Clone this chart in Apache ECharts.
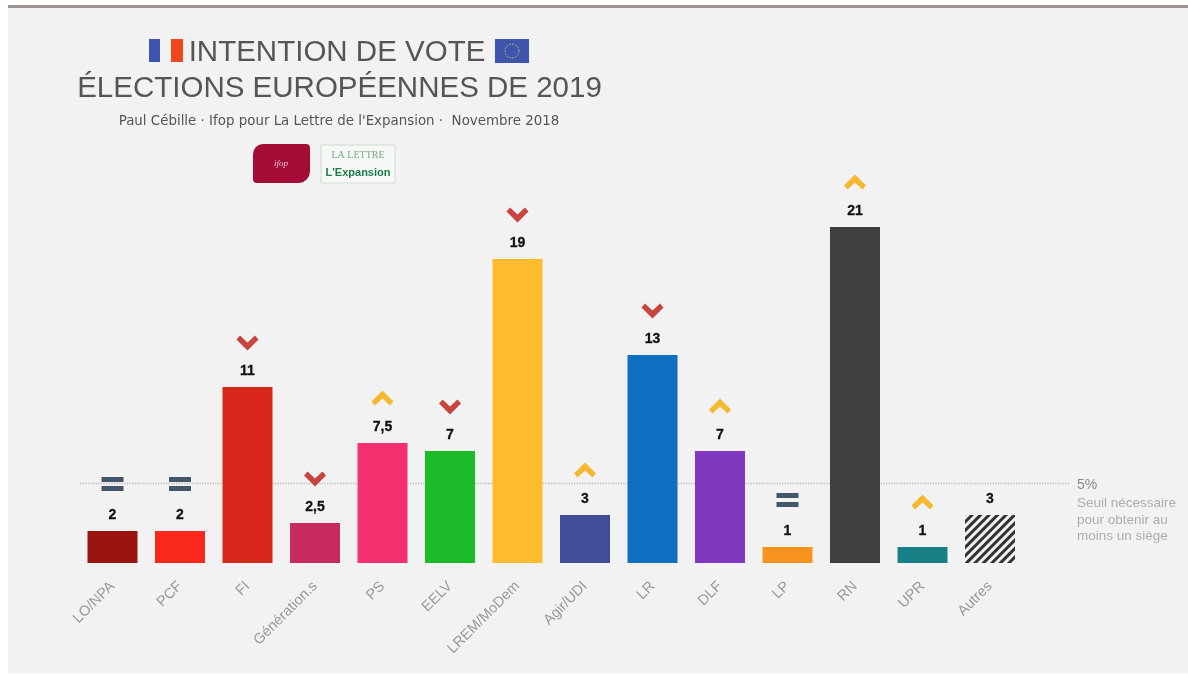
<!DOCTYPE html>
<html><head><meta charset="utf-8">
<style>html,body{margin:0;padding:0;background:#fff}#c{width:1188px;height:674px}</style>
<script src="https://cdn.jsdelivr.net/npm/echarts@6/dist/echarts.min.js"></script>
</head><body><div id="c"></div>
<script>
const categories=['LO/NPA','PCF','FI','Génération.s','PS','EELV','LREM/MoDem','Agir/UDI','LR','DLF','LP','RN','UPR','Autres'];
const values=[2,2,11,2.5,7.5,7,19,3,13,7,1,21,1,3];
const colors=['#9b1510','#f9281a','#d9261a','#c92a62','#f5306e','#1cbb2a','#fdbb2d','#3f4d9a','#0f6fc0','#8038c0','#f7931e','#3f3f3f','#1a8088','#f2f2f2'];
const trends=['same','same','down','down','up','down','down','up','down','up','same','up','up',null];
const threshold=5;
const titleLines=['INTENTION DE VOTE','ÉLECTIONS EUROPÉENNES DE 2019'];
const subtitle="Paul Cébille · Ifop pour La Lettre de l'Expansion ·  Novembre 2018";

const DOWN='path://M0 4L3.5 0L11 7L18.5 0L22 4L11 15Z';
const UP='path://M0 11L3.5 15L11 8L18.5 15L22 11L11 0Z';
const SAME='path://M0 0L22 0L22 5L0 5ZM0 9L22 9L22 14L0 14Z';
const trendStyle={up:[UP,'#f5b82e',-45],down:[DOWN,'#c8453f',-44],same:[SAME,'#44566a',-47]};
const fmt=v=>String(v).replace('.',',');

const chart=echarts.init(document.getElementById('c'),null,{renderer:'canvas'});
chart.setOption({
  animation:false,
  backgroundColor:'#ffffff',
  grid:{left:78.75,width:945,top:163,height:400},
  xAxis:{type:'category',data:categories,
    axisLine:{show:false},axisTick:{show:false},
    axisLabel:{interval:0,rotate:45,margin:21,color:'#999999',fontSize:14.5,fontFamily:'Liberation Sans'}},
  yAxis:{type:'value',min:0,max:25,show:false,splitLine:{show:false}},
  graphic:[
    {type:'rect',z:-10,shape:{x:8,y:8,width:1180,height:665},style:{fill:'#f2f2f2'}},
    {type:'rect',z:-9,shape:{x:8,y:5,width:1180,height:3},style:{fill:'#9c9290'}},
    {type:'rect',shape:{x:149,y:39,width:11,height:23},style:{fill:'#3f55ad'}},
    {type:'rect',shape:{x:171,y:39,width:12,height:23},style:{fill:'#f0481e'}},
    {type:'rect',shape:{x:495,y:39,width:34,height:24},style:{fill:'#3f55ad'}},
    {type:'circle',shape:{cx:512,cy:51,r:7},style:{fill:'none',stroke:'#c9c46a',lineWidth:1,lineDash:[1.5,1.5]}},
    {type:'rect',shape:{x:253,y:144,width:57,height:39,r:[10,4,12,4]},style:{fill:'#a50b37'}},
    {type:'text',style:{x:281,y:164,text:'ifop',align:'center',verticalAlign:'middle',fill:'#e9c9d2',fontSize:9,fontStyle:'italic',fontFamily:'Liberation Serif'}},
    {type:'rect',shape:{x:321,y:145,width:74,height:38},style:{fill:'#f5f8f4',stroke:'#cfdccf',lineWidth:1}},
    {type:'text',style:{x:358,y:155,text:'LA LETTRE',align:'center',verticalAlign:'middle',fill:'#7ea98a',fontSize:10,fontFamily:'Liberation Serif'}},
    {type:'text',style:{x:358,y:173,text:"L'Expansion",align:'center',verticalAlign:'middle',fill:'#1f7a4a',fontSize:11,fontWeight:'bold',fontFamily:'Liberation Sans'}},
    {type:'text',style:{x:337,y:53,text:titleLines[0],align:'center',verticalAlign:'middle',fill:'#555555',fontSize:29.5,fontFamily:'Liberation Sans'}},
    {type:'text',style:{x:339.5,y:89,text:titleLines[1],align:'center',verticalAlign:'middle',fill:'#555555',fontSize:29.5,fontFamily:'Liberation Sans'}},
    {type:'text',style:{x:339,y:122,text:subtitle,align:'center',verticalAlign:'middle',fill:'#555',fontSize:13.4,fontFamily:'DejaVu Sans'}},
    {type:'text',style:{x:1077,y:485,text:'5%',verticalAlign:'middle',fill:'#8a8a8a',fontSize:14,fontFamily:'Liberation Sans'}},
    {type:'text',style:{x:1077,y:503,text:'Seuil nécessaire',verticalAlign:'middle',fill:'#adadad',fontSize:13.5,fontFamily:'Liberation Sans'}},
    {type:'text',style:{x:1077,y:520,text:'pour obtenir au',verticalAlign:'middle',fill:'#adadad',fontSize:13.5,fontFamily:'Liberation Sans'}},
    {type:'text',style:{x:1077,y:536,text:'moins un siège',verticalAlign:'middle',fill:'#adadad',fontSize:13.5,fontFamily:'Liberation Sans'}}
  ],
  series:[
    {type:'line',data:[],z:1,silent:true,
      markLine:{silent:true,z:1,symbol:'none',label:{show:false},
        lineStyle:{color:'#bdbdbd',type:'dotted',width:1.3},
        data:[[{yAxis:threshold,x:80},{yAxis:threshold,x:1070}]]}},
    {type:'bar',z:3,barWidth:50,
      data:values.map((v,i)=>({value:v,itemStyle:i===13?
        {color:colors[i],decal:{symbol:'rect',symbolSize:1,color:'#333333',dashArrayX:[1,0],dashArrayY:[3,3],rotation:-Math.PI/4}}
        :{color:colors[i]}})),
      label:{show:true,position:'top',distance:8.5,formatter:p=>fmt(p.value),color:'#111',fontSize:14,fontWeight:'bold',fontFamily:'Liberation Sans',textBorderColor:'#111',textBorderWidth:0.3}},
    {type:'scatter',z:4,silent:true,
      data:values.map((v,i)=>{
        if(!trends[i])return null;
        const t=trendStyle[trends[i]];
        return {value:[i,v],symbol:t[0],symbolOffset:[0,t[2]],symbolSize:[22,trends[i]==='same'?14:15],itemStyle:{color:t[1],opacity:1}};
      }).filter(Boolean)}
  ]
});
</script></body></html>
